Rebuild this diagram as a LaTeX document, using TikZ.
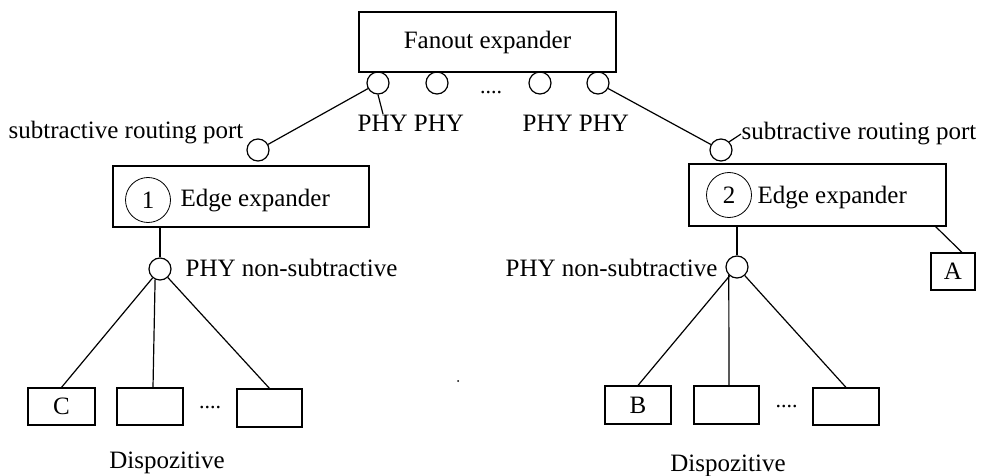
\documentclass[tikz,border=0pt]{standalone}
\usepackage{fontspec}
\setmainfont{Liberation Serif}
\usetikzlibrary{calc}
\begin{document}
\begin{tikzpicture}[x=1pt,y=-1pt,
  every node/.style={font=\fontsize{25}{30}\selectfont},
  line width=1.2pt,
  unit/.style={draw,rectangle,inner sep=0pt},
  port/.style={draw,circle,minimum size=22pt,inner sep=0pt},
  idx/.style={draw,circle,minimum size=45pt,inner sep=0pt,line width=0.8pt},
  lbl/.style={anchor=west,inner sep=0pt},
  dots/.style={inner sep=0pt,font=\fontsize{22}{24}\selectfont}]
\useasboundingbox[fill=white] (0,0) rectangle (986,476);

% fanout expander and its ports
\node[unit,minimum width=257pt,minimum height=60pt] (fan) at (487.5,42) {Fanout expander};
\node[port] (p1) at (378,83) {};
\node[port] (p2) at (437,83) {};
\node[port] (p3) at (540,83) {};
\node[port] (p4) at (598,83) {};
\node[dots] (fdots) at (491,93) {....};
\node[lbl] (phyl) at (357,123) {PHY PHY};
\node[lbl] (phyr) at (522,123) {PHY PHY};
\coordinate (phyt) at (383,114);
\draw (p1.south) -- (phyt);

% subtractive routing ports
\node[port] (sl) at (258,150) {};
\node[lbl,anchor=east] (sll) at (244,133) {subtractive routing port};
\node[port] (sr) at (721,150) {};
\node[lbl] (srl) at (741,134) {subtractive routing port};
\draw (p1) -- (sl);
\draw (p4) -- (sr);
\draw (sr.north east) -- (srl.west);

% edge expander 1
\node[unit,minimum width=256pt,minimum height=61pt] (e1) at (241,196.5) {};
\node[idx] (i1) at (148,200) {1};
\node[lbl] (e1t) at (180,201) {Edge expander};
\node[port] (n1) at (160,269) {};
\node[lbl] (n1t) at (185,268) {PHY non-subtractive};
\draw (n1 |- e1.south) -- (n1);

% edge expander 2
\node[unit,minimum width=257pt,minimum height=62pt] (e2) at (817.5,195) {};
\node[idx] (i2) at (729,195) {2};
\node[lbl] (e2t) at (757,198) {Edge expander};
\node[port] (n2) at (737,267) {};
\node[lbl,anchor=east] (n2t) at (718,268) {PHY non-subtractive};
\draw (n2 |- e2.south) -- (n2);

% device A
\node[unit,minimum width=44pt,minimum height=37pt] (a) at (953,271.5) {A};
\draw ($(e2.south east)+(-11,0)$) -- ($(a.north)+(9,0)$);

% devices under edge expander 1
\node[unit,minimum width=67pt,minimum height=37pt] (c) at (61.5,406.5) {C};
\node[unit,minimum width=66pt,minimum height=37pt] (d12) at (150,406.5) {};
\node[unit,minimum width=65pt,minimum height=38pt] (d13) at (269.5,408) {};
\node[dots] (ddots1) at (210,408) {....};
\draw (n1) -- (c.north);
\draw (n1.-115) -- ($(d12.north)+(3,0)$);
\draw (n1) -- (d13.north);
\node (disp1) at (167,463) {Dispozitive};

% devices under edge expander 2
\node[unit,minimum width=66pt,minimum height=38pt] (b) at (638,405) {B};
\node[unit,minimum width=65pt,minimum height=38pt] (d22) at (726.5,405) {};
\node[unit,minimum width=66pt,minimum height=37pt] (d23) at (846,406.5) {};
\node[dots] (ddots2) at (786.5,407) {....};
\draw (n2) -- (b.north);
\draw (n2.-135) -- ($(d22.north)+(2.5,0)$);
\draw (n2) -- (d23.north);
\node (disp2) at (728,466) {Dispozitive};

% stray mark
\fill (458,381) circle (1pt);
\end{tikzpicture}
\end{document}
